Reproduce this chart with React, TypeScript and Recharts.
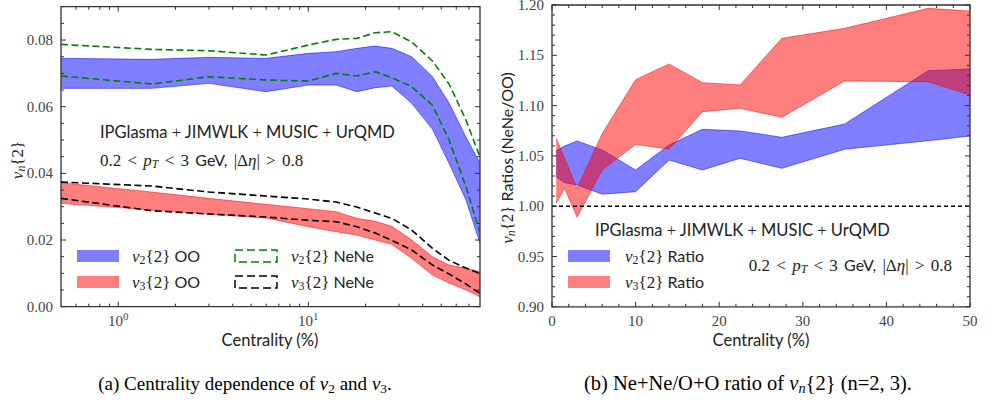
import React from 'react';
import { ComposedChart, Area, Line, XAxis, YAxis, ReferenceArea, ReferenceLine } from 'recharts';

// ---- left panel: centrality (%) on log axis ----
const centLeft = [0.5, 1.5, 3, 6, 10, 14, 18, 22.5, 27.5, 35, 45, 55, 67.5, 80];
const v2OOHi = [0.0745, 0.0742, 0.0748, 0.0745, 0.076, 0.0765, 0.0775, 0.0782, 0.0775, 0.075, 0.069, 0.0611, 0.0509, 0.0431];
const v2OOLo = [0.0655, 0.0655, 0.067, 0.0645, 0.0665, 0.0665, 0.0645, 0.0657, 0.0662, 0.061, 0.0532, 0.043, 0.032, 0.019];
const v3OOHi = [0.0372, 0.0344, 0.0325, 0.0307, 0.0294, 0.0285, 0.0265, 0.0256, 0.0241, 0.02, 0.015, 0.0125, 0.0115, 0.0105];
const v3OOLo = [0.031, 0.029, 0.0278, 0.0266, 0.024, 0.0225, 0.0215, 0.02, 0.0187, 0.0145, 0.0095, 0.0071, 0.005, 0.003];
const v2NeHi = [0.0787, 0.0772, 0.0768, 0.0755, 0.0785, 0.0802, 0.0805, 0.0822, 0.0825, 0.0794, 0.0737, 0.0668, 0.056, 0.0449];
const v2NeLo = [0.0692, 0.0668, 0.069, 0.068, 0.0677, 0.07, 0.0692, 0.0705, 0.0687, 0.066, 0.0604, 0.05, 0.036, 0.0221];
const v3NeHi = [0.0374, 0.0362, 0.0344, 0.0332, 0.0323, 0.0314, 0.0299, 0.0281, 0.0265, 0.023, 0.0175, 0.0139, 0.0116, 0.01];
const v3NeLo = [0.0325, 0.0288, 0.0278, 0.0269, 0.0259, 0.0255, 0.024, 0.0221, 0.0199, 0.017, 0.0125, 0.0098, 0.0068, 0.004];

// ---- right panel: NeNe/OO ratios ----
const centRight = [0.5, 1.5, 3, 6, 10, 14, 18, 22.5, 27.5, 35, 45, 50];
const r2Hi = [1.0552, 1.0598, 1.0648, 1.0559, 1.036, 1.0608, 1.0764, 1.0748, 1.0685, 1.0817, 1.1347, 1.1364];
const r2Lo = [1.0293, 1.0234, 1.0211, 1.012, 1.0144, 1.0459, 1.036, 1.0476, 1.0377, 1.0566, 1.0651, 1.0698];
const r3Hi = [1.0675, 1.048, 1.0178, 1.072, 1.1258, 1.1414, 1.1228, 1.1205, 1.1669, 1.1768, 1.1967, 1.194];
const r3Lo = [1.0029, 1.0178, 0.989, 1.036, 1.0615, 1.0566, 1.094, 1.0973, 1.0884, 1.1245, 1.1238, 1.1105];

// tick positions
const logTicks = [0.6, 0.7, 0.8, 0.9, 1, 2, 3, 4, 5, 6, 7, 8, 9, 10, 20, 30, 40, 50, 60, 70];
const logMajors = [1, 10];
const leftYMajors = [0, 0.02, 0.04, 0.06, 0.08];
const rightXMajors = [0, 10, 20, 30, 40, 50];
const rightYMajors = [0.9, 0.95, 1.0, 1.05, 1.1, 1.15, 1.2];

const range = (a: number, b: number, step: number) => {
  const out: number[] = [];
  for (let v = a; v <= b + step / 2; v += step) out.push(Math.round(v * 1e6) / 1e6);
  return out;
};
const leftYTicks = range(0, 0.09, 0.005);
const rightXTicks = range(0, 50, 2);
const rightYTicks = range(0.9, 1.2, 0.01);

const leftRows = centLeft.map((c, i) => ({
  c,
  v2oo: [v2OOLo[i], v2OOHi[i]],
  v3oo: [v3OOLo[i], v3OOHi[i]],
  v2neHi: v2NeHi[i],
  v2neLo: v2NeLo[i],
  v3neHi: v3NeHi[i],
  v3neLo: v3NeLo[i],
}));

const rightRows = centRight.map((c, i) => ({
  c,
  r2: [r2Lo[i], r2Hi[i]],
  r3: [r3Lo[i], r3Hi[i]],
}));

const AX = '#333';
const TICK_FONT = { fontFamily: '"Liberation Serif", serif', fontSize: 15, fill: '#444' };
const isMajor = (v: number, majors: number[]) => majors.some((m) => Math.abs(m - v) < 1e-9);

// bottom axis ticks: inward on bottom and top edges
const xTick = (plotH: number, majors: number[], label: (v: number) => React.ReactNode) => (p: any) => {
  const v = p.payload.value;
  const major = isMajor(v, majors);
  const len = major ? 5 : 3;
  return (
    <g>
      <line x1={p.x} x2={p.x} y1={p.y} y2={p.y - len} stroke={AX} strokeWidth={1} />
      <line x1={p.x} x2={p.x} y1={p.y - plotH} y2={p.y - plotH + len} stroke={AX} strokeWidth={1} />
      {major && (
        <text x={p.x} y={p.y + 19} textAnchor="middle" {...TICK_FONT}>
          {label(v)}
        </text>
      )}
    </g>
  );
};

// left axis ticks: inward on left and right edges
const yTick = (plotW: number, majors: number[]) => (p: any) => {
  const v = p.payload.value;
  const major = isMajor(v, majors);
  const len = major ? 5 : 3;
  return (
    <g>
      <line x1={p.x} x2={p.x + len} y1={p.y} y2={p.y} stroke={AX} strokeWidth={1} />
      <line x1={p.x + plotW} x2={p.x + plotW - len} y1={p.y} y2={p.y} stroke={AX} strokeWidth={1} />
      {major && (
        <text x={p.x - 8} y={p.y} textAnchor="end" dominantBaseline="central" {...TICK_FONT}>
          {v.toFixed(2)}
        </text>
      )}
    </g>
  );
};

const powLabel = (v: number) => (
  <>
    10
    <tspan dy={-6} fontSize={11}>
      {Math.round(Math.log10(v))}
    </tspan>
  </>
);

const serif = '"Liberation Serif", serif';
const sans = 'Lato, "DejaVu Sans", sans-serif';
const sub: React.CSSProperties = { fontSize: '0.7em', position: 'relative', top: '0.2em' };

const At: React.FC<{ x: number; y: number; ax?: number; rot?: boolean; style?: React.CSSProperties; children: React.ReactNode }> = ({
  x,
  y,
  ax = 0,
  rot,
  style,
  children,
}) => (
  <div
    style={{
      position: 'absolute',
      left: x,
      top: y,
      whiteSpace: 'nowrap',
      lineHeight: 1,
      transform: rot ? 'translate(-50%, -50%) rotate(-90deg)' : `translate(${-ax * 100}%, -50%)`,
      ...style,
    }}
  >
    {children}
  </div>
);

const V: React.FC<{ n: string }> = ({ n }) => (
  <span style={{ fontFamily: serif, fontSize: 17 }}>
    <i>v</i>
    <span style={sub}>{n}</span>
    {'{2}'}
  </span>
);

const Swatch: React.FC<{ color: string }> = ({ color }) => (
  <div style={{ width: 42, height: 12, background: color, opacity: 0.5, border: `1px solid ${color}`, boxSizing: 'border-box' }} />
);

const DashBox: React.FC<{ color: string }> = ({ color }) => (
  <svg width={44} height={14} style={{ display: 'block' }}>
    <rect x={1} y={1} width={42} height={12} fill="none" stroke={color} strokeWidth={1.5} strokeDasharray="8 4" />
  </svg>
);

const Cuts = () => (
  <span style={{ fontFamily: serif, fontSize: 17, wordSpacing: 2 }}>
    0.2 &lt; <i>p</i>
    <span style={sub}>
      <i>T</i>
    </span>{' '}
    &lt; 3 <span style={{ fontFamily: sans, fontSize: 16 }}>GeV,</span> |Δ<i>η</i>| &gt; 0.8
  </span>
);

const Model = () => (
  <span style={{ fontFamily: sans, fontSize: 16.5 }}>
    IPGlasma <span style={{ fontFamily: serif }}>+</span> JIMWLK <span style={{ fontFamily: serif }}>+</span> MUSIC{' '}
    <span style={{ fontFamily: serif }}>+</span> UrQMD
  </span>
);

const VnLabel = () => (
  <span style={{ fontFamily: serif, fontSize: 17 }}>
    <i>v</i>
    <span style={sub}>
      <i>n</i>
    </span>
    {'{2}'}
  </span>
);

const App: React.FC = () => {
  return (
    <div style={{ position: 'absolute', left: 0, top: 0, width: 991, height: 403, background: '#fff', color: '#222' }}>
      {/* (a) centrality dependence */}
      <div style={{ position: 'absolute', left: 0, top: 0 }}>
        <ComposedChart width={490} height={340} data={leftRows} margin={{ top: 6.7, right: 10, bottom: 0, left: 0 }}>
          <XAxis
            dataKey="c"
            type="number"
            scale="log"
            domain={[0.5, 80]}
            allowDataOverflow
            ticks={logTicks}
            interval={0}
            height={33.3}
            axisLine={false}
            tickLine={false}
            tickSize={0}
            tickMargin={0}
            tick={xTick(300, logMajors, powLabel)}
          />
          <YAxis
            type="number"
            domain={[0, 0.09]}
            allowDataOverflow
            ticks={leftYTicks}
            interval={0}
            width={61}
            axisLine={false}
            tickLine={false}
            tickSize={0}
            tickMargin={0}
            tick={yTick(419, leftYMajors)}
          />
          <Area type="linear" dataKey="v2oo" stroke="#0000ff" strokeOpacity={0.5} fill="#0000ff" fillOpacity={0.5} isAnimationActive={false} dot={false} activeDot={false} />
          <Area type="linear" dataKey="v3oo" stroke="#ff0000" strokeOpacity={0.5} fill="#ff0000" fillOpacity={0.5} isAnimationActive={false} dot={false} activeDot={false} />
          <Line type="linear" dataKey="v2neHi" stroke="#008000" strokeWidth={1.6} strokeDasharray="7 3.5" dot={false} activeDot={false} isAnimationActive={false} />
          <Line type="linear" dataKey="v2neLo" stroke="#008000" strokeWidth={1.6} strokeDasharray="7 3.5" dot={false} activeDot={false} isAnimationActive={false} />
          <Line type="linear" dataKey="v3neHi" stroke="#000" strokeWidth={1.6} strokeDasharray="7 3.5" dot={false} activeDot={false} isAnimationActive={false} />
          <Line type="linear" dataKey="v3neLo" stroke="#000" strokeWidth={1.6} strokeDasharray="7 3.5" dot={false} activeDot={false} isAnimationActive={false} />
          <ReferenceArea x1={0.5} x2={80} y1={0} y2={0.09} fill="none" fillOpacity={0} stroke={AX} strokeWidth={1.3} ifOverflow="visible" />
        </ComposedChart>
      </div>

      {/* (b) NeNe / OO ratio */}
      <div style={{ position: 'absolute', left: 490, top: 0 }}>
        <ComposedChart width={501} height={340} data={rightRows} margin={{ top: 5, right: 21, bottom: 0, left: 0 }}>
          <XAxis
            dataKey="c"
            type="number"
            domain={[0, 50]}
            allowDataOverflow
            ticks={rightXTicks}
            interval={0}
            height={33.2}
            axisLine={false}
            tickLine={false}
            tickSize={0}
            tickMargin={0}
            tick={xTick(301.8, rightXMajors, (v) => String(v))}
          />
          <YAxis
            type="number"
            domain={[0.9, 1.2]}
            allowDataOverflow
            ticks={rightYTicks}
            interval={0}
            width={62}
            axisLine={false}
            tickLine={false}
            tickSize={0}
            tickMargin={0}
            tick={yTick(418, rightYMajors)}
          />
          <Area type="linear" dataKey="r2" stroke="#0000ff" strokeOpacity={0.5} fill="#0000ff" fillOpacity={0.5} isAnimationActive={false} dot={false} activeDot={false} />
          <Area type="linear" dataKey="r3" stroke="#ff0000" strokeOpacity={0.5} fill="#ff0000" fillOpacity={0.5} isAnimationActive={false} dot={false} activeDot={false} />
          <ReferenceLine y={1} stroke="#000" strokeWidth={1.5} strokeDasharray="4 3" />
          <ReferenceArea x1={0} x2={50} y1={0.9} y2={1.2} fill="none" fillOpacity={0} stroke={AX} strokeWidth={1.3} ifOverflow="visible" />
        </ComposedChart>
      </div>

      {/* left panel texts */}
      <At x={100} y={133}><Model /></At>
      <At x={100} y={160}><Cuts /></At>
      <At x={17} y={160} rot><VnLabel /></At>
      <At x={270} y={340} ax={0.5} style={{ fontFamily: sans, fontSize: 16.5 }}>Centrality (%)</At>

      <At x={77} y={256}><Swatch color="#0000ff" /></At>
      <At x={77} y={282}><Swatch color="#ff0000" /></At>
      <At x={132} y={256} style={{ fontFamily: sans, fontSize: 16 }}><V n="2" /> OO</At>
      <At x={132} y={282} style={{ fontFamily: sans, fontSize: 16 }}><V n="3" /> OO</At>
      <At x={234} y={256}><DashBox color="#008000" /></At>
      <At x={234} y={282}><DashBox color="#000" /></At>
      <At x={291} y={256} style={{ fontFamily: sans, fontSize: 16 }}><V n="2" /> NeNe</At>
      <At x={291} y={282} style={{ fontFamily: sans, fontSize: 16 }}><V n="3" /> NeNe</At>

      {/* right panel texts */}
      <At x={595} y={231}><Model /></At>
      <At x={952} y={265} ax={1}><Cuts /></At>
      <At x={507} y={158} rot>
        <VnLabel />
        <span style={{ fontFamily: sans, fontSize: 16 }}> Ratios (NeNe/OO)</span>
      </At>
      <At x={761} y={340} ax={0.5} style={{ fontFamily: sans, fontSize: 16.5 }}>Centrality (%)</At>

      <At x={568} y={256}><Swatch color="#0000ff" /></At>
      <At x={568} y={282}><Swatch color="#ff0000" /></At>
      <At x={625} y={256} style={{ fontFamily: sans, fontSize: 16 }}><V n="2" /> Ratio</At>
      <At x={625} y={282} style={{ fontFamily: sans, fontSize: 16 }}><V n="3" /> Ratio</At>

      {/* captions */}
      <At x={245} y={383} ax={0.5} style={{ fontFamily: serif, fontSize: 19, color: '#000' }}>
        (a) Centrality dependence of <i>v</i><span style={sub}>2</span> and <i>v</i>
        <span style={sub}>3</span>.
      </At>
      <At x={748} y={383} ax={0.5} style={{ fontFamily: serif, fontSize: 20.5, color: '#000' }}>
        (b) Ne+Ne/O+O ratio of <i>v</i><span style={sub}><i>n</i></span>{'{2}'} (n=2, 3).
      </At>
    </div>
  );
};

export default App;
